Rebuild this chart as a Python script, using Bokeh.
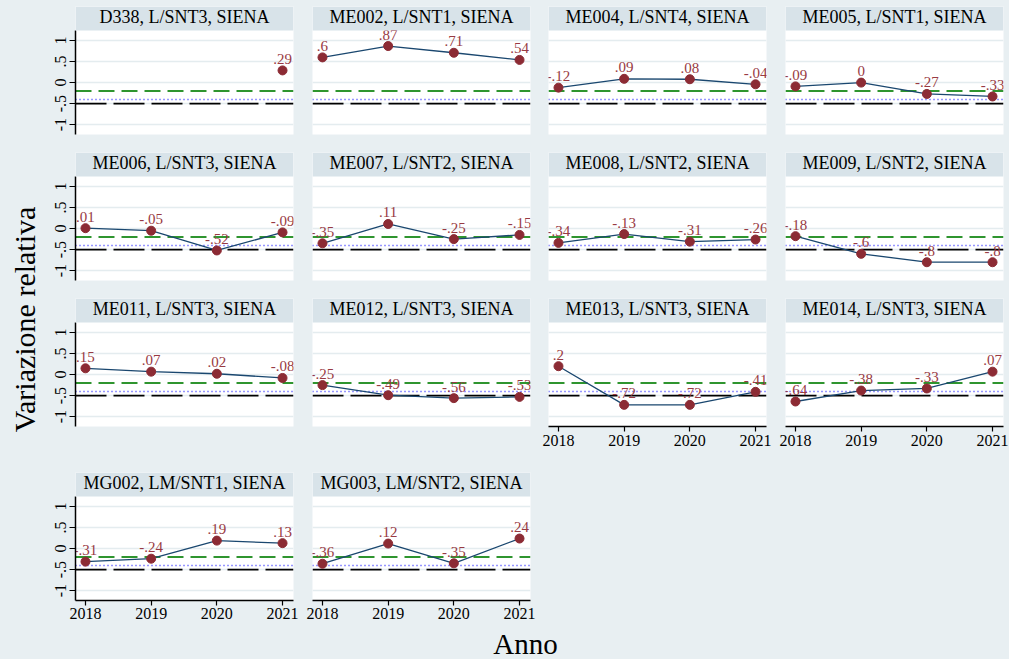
import math
from bokeh.plotting import figure
from bokeh.layouts import row, column
from bokeh.models import (Range1d, FixedTicker, Span, BoxAnnotation, Label,
                          ColumnDataSource)
from bokeh.core.properties import value
from bokeh.embed import file_html
from bokeh.resources import INLINE

nan = float("nan")

# ---------------- data ----------------
years = [2018, 2019, 2020, 2021]
titles = [
    "D338, L/SNT3, SIENA", "ME002, L/SNT1, SIENA", "ME004, L/SNT4, SIENA", "ME005, L/SNT1, SIENA",
    "ME006, L/SNT3, SIENA", "ME007, L/SNT2, SIENA", "ME008, L/SNT2, SIENA", "ME009, L/SNT2, SIENA",
    "ME011, L/SNT3, SIENA", "ME012, L/SNT3, SIENA", "ME013, L/SNT3, SIENA", "ME014, L/SNT3, SIENA",
    "MG002, LM/SNT1, SIENA", "MG003, LM/SNT2, SIENA",
]
D338 = [nan, nan, nan, 0.29]
ME002 = [0.6, 0.87, 0.71, 0.54]
ME004 = [-0.12, 0.09, 0.08, -0.04]
ME005 = [-0.09, 0.0, -0.27, -0.33]
ME006 = [0.01, -0.05, -0.52, -0.09]
ME007 = [-0.35, 0.11, -0.25, -0.15]
ME008 = [-0.34, -0.13, -0.31, -0.26]
ME009 = [-0.18, -0.6, -0.8, -0.8]
ME011 = [0.15, 0.07, 0.02, -0.08]
ME012 = [-0.25, -0.49, -0.56, -0.53]
ME013 = [0.2, -0.72, -0.72, -0.41]
ME014 = [-0.64, -0.38, -0.33, 0.07]
MG002 = [-0.31, -0.24, 0.19, 0.13]
MG003 = [-0.36, 0.12, -0.35, 0.24]
series = [D338, ME002, ME004, ME005, ME006, ME007, ME008, ME009,
          ME011, ME012, ME013, ME014, MG002, MG003]

y_ticks = [-1, -0.5, 0, 0.5, 1]
y_tick_labels = ["-1", "-.5", "0", ".5", "1"]
ref_green = -0.2
ref_blue = -0.4
ref_black = -0.5
x_title = "Anno"
y_title = "Variazione relativa"

# ---------------- style ----------------
BG = "#e8eff2"
STRIP = "#d8e3e9"
GRID = "#e4ecef"
NAVY = "#1a476f"
MCOL = "#8c2b34"
LCOL = "#983a43"
GREEN = "#2f952f"
BLUE = "#2f2fff"
FONT = "Liberation Serif"

FW, FH = 218, 128          # frame size (strip + plot area)
PLOT_H, STRIP_H = 104, 24
XS, XE = 2017.848, 2021.167
Y_LO, Y_HI = -1.235, 1.24
UPP = (Y_HI - Y_LO) / PLOT_H
Y_END = Y_HI + STRIP_H * UPP
TITLE_Y = Y_END - 10.5 * UPP

COLS = [(35, 9), (10, 9), (9, 9), (10, 6)]
ROWS = [(6, 9), (9, 9), (9, 37), (9, 26)]
XLAB_H = 659 - (143 + 146 + 174 + 9 + 128 + 26)


def fmt(v):
    if v != v:
        return ""
    s = f"{v:g}"
    return s.replace("0.", ".")


def make_panel(i):
    r, c = divmod(i, 4)
    left_axis = (c == 0)
    bottom_axis = (r == 3) or (r == 2 and c >= 2)
    L, R = COLS[c]
    T, B = ROWS[r]
    p = figure(frame_width=FW, frame_height=FH,
               x_range=Range1d(XS, XE), y_range=Range1d(Y_LO, Y_END),
               x_axis_location="below" if bottom_axis else None,
               y_axis_location="left" if left_axis else None,
               output_backend="svg", toolbar_location=None,
               min_border_left=L, min_border_right=R,
               min_border_top=T, min_border_bottom=B,
               background_fill_color="white", border_fill_color=BG,
               outline_line_color=None)
    p.xgrid.visible = False
    p.ygrid.ticker = FixedTicker(ticks=y_ticks)
    p.ygrid.grid_line_color = GRID
    p.ygrid.grid_line_width = 1.5

    if left_axis:
        ax = p.yaxis[0]
        ax.ticker = FixedTicker(ticks=y_ticks)
        ax.major_label_overrides = {t: l for t, l in zip(y_ticks, y_tick_labels)}
        ax.bounds = (Y_LO, Y_HI)
        ax.axis_line_color = "black"
        ax.axis_line_width = 1.5
        ax.major_tick_line_color = "black"
        ax.major_tick_line_width = 1.2
        ax.major_tick_out = 6
        ax.major_tick_in = 0
        ax.minor_tick_out = 0
        ax.minor_tick_in = 0
        ax.major_label_orientation = "vertical"
        ax.major_label_standoff = 3
        ax.major_label_text_font = FONT
        ax.major_label_text_font_size = "16px"
        ax.major_label_text_color = "black"
    if bottom_axis:
        ax = p.xaxis[0]
        ax.ticker = FixedTicker(ticks=years)
        ax.axis_line_color = "black"
        ax.axis_line_width = 1.5
        ax.major_tick_line_color = "black"
        ax.major_tick_line_width = 1.2
        ax.major_tick_out = 5
        ax.major_tick_in = 0
        ax.minor_tick_out = 0
        ax.minor_tick_in = 0
        ax.major_label_standoff = 3 if r == 2 else 2
        ax.major_label_text_font = FONT
        ax.major_label_text_font_size = "16px"
        ax.major_label_text_color = "black"

    p.add_layout(Span(location=ref_green, dimension="width", line_color=GREEN,
                      line_width=2, line_dash="16 7", level="underlay"))
    p.add_layout(Span(location=ref_blue, dimension="width", line_color=BLUE,
                      line_width=1.5, line_dash="1 3", level="underlay"))
    p.add_layout(Span(location=ref_black, dimension="width", line_color="black",
                      line_width=1.6, line_dash="31 7", level="underlay"))

    vals = series[i]
    src = ColumnDataSource(dict(x=years, y=vals, lab=[fmt(v) for v in vals]))
    p.line("x", "y", source=src, line_color=NAVY, line_width=1.3)
    p.scatter("x", "y", source=src, size=9, fill_color=MCOL, line_color=MCOL)
    p.text("x", "y", "lab", source=src, text_align="center",
           text_baseline="alphabetic", y_offset=-11.5,
           text_font=value(FONT), text_font_size="15px", text_color=LCOL)

    p.add_layout(BoxAnnotation(bottom=Y_HI, fill_color=STRIP, fill_alpha=1,
                               line_color=None))
    p.add_layout(Label(x=(XS + XE) / 2, y=TITLE_Y, text=titles[i],
                       text_align="center", text_baseline="alphabetic",
                       text_font=FONT, text_font_size="18px", text_color="black"))
    return p


panels = [make_panel(i) for i in range(len(series))]
rows = [row(panels[k:k + 4], spacing=0) for k in range(0, len(panels), 4)]

# x-axis title strip
xlab = figure(frame_width=969, frame_height=XLAB_H, x_range=Range1d(0, 969),
              y_range=Range1d(0, XLAB_H), x_axis_location=None, y_axis_location=None,
              output_backend="svg", toolbar_location=None, min_border=0,
              background_fill_color=BG, border_fill_color=BG, outline_line_color=None)
xlab.grid.visible = False
xlab.add_layout(Label(x=485, y=15.7, text=x_title, text_align="center",
                      text_baseline="alphabetic", text_font=FONT,
                      text_font_size="29px", text_color="black"))

# y-axis title strip
ylab = figure(frame_width=40, frame_height=659, x_range=Range1d(0, 40),
              y_range=Range1d(0, 659), x_axis_location=None, y_axis_location=None,
              output_backend="svg", toolbar_location=None, min_border=0,
              background_fill_color=BG, border_fill_color=BG, outline_line_color=None)
ylab.grid.visible = False
ylab.add_layout(Label(x=24, y=340, text=y_title, angle=math.pi / 2,
                      text_align="center", text_baseline="alphabetic",
                      text_font=FONT, text_font_size="30px", text_color="black"))

right = column(rows + [xlab], spacing=0, styles={"background-color": BG})
layout = row([ylab, right], spacing=0, styles={"background-color": BG})

open("out.html", "w").write(file_html(layout, INLINE))
